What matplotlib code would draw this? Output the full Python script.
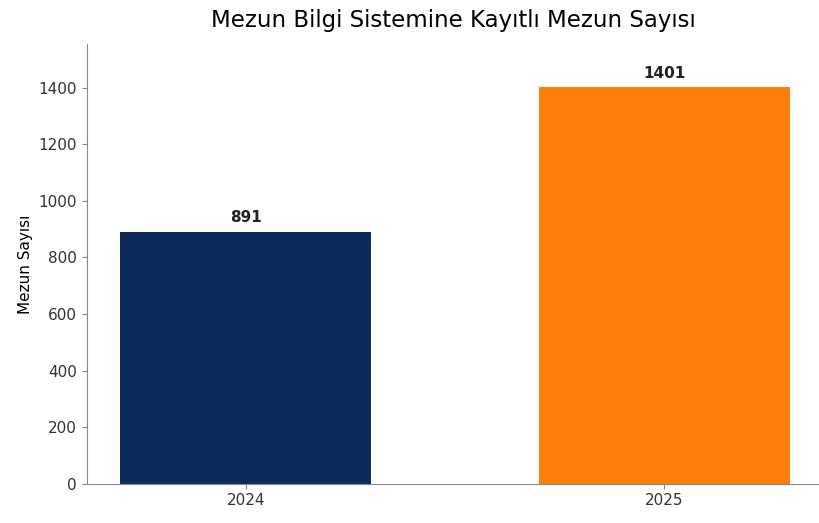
import matplotlib
matplotlib.use("Agg")
import matplotlib.pyplot as plt

# data
years = ["2024", "2025"]
graduates = [891, 1401]
bar_colors = ["#0b2c5a", "#ff7f0e"]

fig = plt.figure(figsize=(8.19, 5.23), dpi=100)
ax = fig.add_axes([0.106, 0.075, 0.894, 0.841])

x = range(len(years))
bars = ax.bar(x, graduates, width=0.6, color=bar_colors)

for rect, val in zip(bars, graduates):
    ax.annotate(str(val), (rect.get_x() + rect.get_width() / 2, rect.get_height()),
                xytext=(0, 5), textcoords="offset points",
                ha="center", va="bottom", fontsize=11, fontweight="bold", color="#222222")

ax.set_xticks(list(x))
ax.set_xticklabels(years)
ax.set_xlim(-0.38, 1.37)
ax.set_ylim(0, 1555)
ax.set_yticks(range(0, 1401, 200))

ax.set_title("Mezun Bilgi Sistemine Kayıtlı Mezun Sayısı", fontsize=16.5, pad=12)
ax.set_ylabel("Mezun Sayısı", fontsize=11)

for side in ("top", "right"):
    ax.spines[side].set_visible(False)
for side in ("left", "bottom"):
    ax.spines[side].set_color("#888888")
ax.tick_params(colors="#888888", labelcolor="#333333", labelsize=11)

fig.savefig("out.png", dpi=100)
